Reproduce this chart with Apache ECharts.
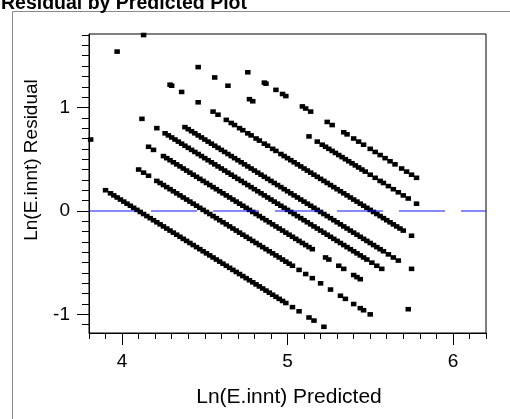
<!DOCTYPE html>
<html>
<head>
<meta charset="utf-8">
<style>
html,body{margin:0;padding:0;background:#fff;}
#chart{width:510px;height:419px;}
</style>
<script src="https://cdn.jsdelivr.net/npm/echarts@6/dist/echarts.min.js"></script>
</head>
<body>
<div id="chart"></div>
<script>
// ---- data: [Ln(E.innt) Predicted, Ln(E.innt) Residual] ----
const bandA = [[3.90,0.20],[3.93,0.17],[3.95,0.15],[3.97,0.13],[3.99,0.11],[4.01,0.09],[4.03,0.07],[4.05,0.05],[4.07,0.03],[4.09,0.01],[4.11,-0.01],[4.13,-0.03],[4.15,-0.05],[4.17,-0.07],[4.19,-0.09],[4.21,-0.11],[4.23,-0.13],[4.25,-0.15],[4.27,-0.17],[4.29,-0.19],[4.31,-0.21],[4.33,-0.23],[4.35,-0.25],[4.37,-0.27],[4.39,-0.29],[4.41,-0.31],[4.43,-0.33],[4.45,-0.35],[4.47,-0.37],[4.49,-0.39],[4.51,-0.41],[4.53,-0.43],[4.55,-0.45],[4.57,-0.47],[4.59,-0.49],[4.61,-0.51],[4.63,-0.53],[4.65,-0.55],[4.67,-0.57],[4.69,-0.59],[4.71,-0.61],[4.73,-0.63],[4.75,-0.65],[4.77,-0.67],[4.79,-0.69],[4.81,-0.71],[4.83,-0.73],[4.85,-0.75],[4.87,-0.77],[4.89,-0.79],[4.91,-0.81],[4.93,-0.83],[4.95,-0.85],[4.97,-0.87],[4.99,-0.89],[5.03,-0.93],[5.07,-0.97],[5.13,-1.03],[5.16,-1.06],[5.22,-1.12]];
const bandB = [[3.81,0.69],[4.10,0.40],[4.13,0.37],[4.16,0.34],[4.21,0.29],[4.23,0.27],[4.25,0.25],[4.27,0.23],[4.29,0.21],[4.31,0.19],[4.33,0.17],[4.35,0.15],[4.37,0.13],[4.39,0.11],[4.41,0.09],[4.43,0.07],[4.45,0.05],[4.47,0.03],[4.49,0.01],[4.51,-0.01],[4.53,-0.03],[4.55,-0.05],[4.57,-0.07],[4.59,-0.09],[4.61,-0.11],[4.63,-0.13],[4.65,-0.15],[4.67,-0.17],[4.69,-0.19],[4.71,-0.21],[4.73,-0.23],[4.75,-0.25],[4.77,-0.27],[4.79,-0.29],[4.81,-0.31],[4.83,-0.33],[4.85,-0.35],[4.87,-0.37],[4.89,-0.39],[4.91,-0.41],[4.93,-0.43],[4.95,-0.45],[4.97,-0.47],[4.99,-0.49],[5.01,-0.51],[5.03,-0.53],[5.07,-0.57],[5.11,-0.61],[5.15,-0.65],[5.20,-0.70],[5.26,-0.76],[5.32,-0.82],[5.35,-0.85],[5.40,-0.90],[5.44,-0.94],[5.46,-0.96],[5.50,-1.00]];
const bandC = [[4.16,0.62],[4.19,0.59],[4.25,0.53],[4.27,0.51],[4.29,0.49],[4.31,0.47],[4.33,0.45],[4.35,0.43],[4.37,0.41],[4.39,0.39],[4.41,0.37],[4.43,0.35],[4.45,0.33],[4.47,0.31],[4.49,0.29],[4.51,0.27],[4.53,0.25],[4.55,0.23],[4.57,0.21],[4.59,0.19],[4.61,0.17],[4.63,0.15],[4.65,0.13],[4.67,0.11],[4.69,0.09],[4.71,0.07],[4.73,0.05],[4.75,0.03],[4.77,0.01],[4.79,-0.01],[4.81,-0.03],[4.83,-0.05],[4.85,-0.07],[4.87,-0.09],[4.89,-0.11],[4.91,-0.13],[4.93,-0.15],[4.95,-0.17],[4.97,-0.19],[4.99,-0.21],[5.01,-0.23],[5.03,-0.25],[5.05,-0.27],[5.07,-0.29],[5.09,-0.31],[5.11,-0.33],[5.13,-0.35],[5.15,-0.37],[5.23,-0.45],[5.25,-0.47],[5.31,-0.53],[5.34,-0.56],[5.40,-0.62],[5.42,-0.64],[5.44,-0.66],[5.73,-0.95]];
const bandD = [[4.12,0.89],[4.21,0.80],[4.26,0.75],[4.28,0.73],[4.30,0.71],[4.32,0.69],[4.34,0.67],[4.36,0.65],[4.38,0.63],[4.40,0.61],[4.42,0.59],[4.44,0.57],[4.46,0.55],[4.48,0.53],[4.50,0.51],[4.52,0.49],[4.54,0.47],[4.56,0.45],[4.58,0.43],[4.60,0.41],[4.62,0.39],[4.64,0.37],[4.66,0.35],[4.68,0.33],[4.70,0.31],[4.72,0.29],[4.74,0.27],[4.76,0.25],[4.78,0.23],[4.80,0.21],[4.82,0.19],[4.84,0.17],[4.86,0.15],[4.88,0.13],[4.90,0.11],[4.92,0.09],[4.94,0.07],[4.96,0.05],[4.98,0.03],[5.00,0.01],[5.02,-0.01],[5.04,-0.03],[5.06,-0.05],[5.08,-0.07],[5.10,-0.09],[5.12,-0.11],[5.14,-0.13],[5.16,-0.15],[5.18,-0.17],[5.20,-0.19],[5.22,-0.21],[5.24,-0.23],[5.26,-0.25],[5.28,-0.27],[5.30,-0.29],[5.32,-0.31],[5.34,-0.33],[5.36,-0.35],[5.38,-0.37],[5.40,-0.39],[5.42,-0.41],[5.44,-0.43],[5.46,-0.45],[5.48,-0.47],[5.51,-0.50],[5.54,-0.53],[5.57,-0.56]];
const bandE = [[4.38,0.81],[4.40,0.79],[4.42,0.77],[4.44,0.75],[4.46,0.73],[4.48,0.71],[4.50,0.69],[4.52,0.67],[4.54,0.65],[4.56,0.63],[4.58,0.61],[4.60,0.59],[4.62,0.57],[4.64,0.55],[4.66,0.53],[4.68,0.51],[4.70,0.49],[4.72,0.47],[4.74,0.45],[4.76,0.43],[4.78,0.41],[4.80,0.39],[4.82,0.37],[4.84,0.35],[4.86,0.33],[4.88,0.31],[4.90,0.29],[4.92,0.27],[4.94,0.25],[4.96,0.23],[4.98,0.21],[5.00,0.19],[5.02,0.17],[5.04,0.15],[5.06,0.13],[5.08,0.11],[5.10,0.09],[5.12,0.07],[5.14,0.05],[5.16,0.03],[5.18,0.01],[5.20,-0.01],[5.22,-0.03],[5.24,-0.05],[5.26,-0.07],[5.28,-0.09],[5.30,-0.11],[5.32,-0.13],[5.34,-0.15],[5.36,-0.17],[5.38,-0.19],[5.40,-0.21],[5.42,-0.23],[5.44,-0.25],[5.46,-0.27],[5.48,-0.29],[5.50,-0.31],[5.52,-0.33],[5.54,-0.35],[5.56,-0.37],[5.58,-0.39],[5.61,-0.42],[5.64,-0.45],[5.67,-0.48],[5.75,-0.56]];
const bandF = [[3.97,1.54],[4.29,1.22],[4.30,1.21],[4.36,1.15],[4.46,1.05],[4.55,0.96],[4.58,0.93],[4.63,0.88],[4.66,0.85],[4.68,0.83],[4.71,0.80],[4.73,0.78],[4.76,0.75],[4.78,0.73],[4.81,0.70],[4.83,0.68],[4.86,0.65],[4.88,0.63],[4.91,0.60],[4.93,0.58],[4.96,0.55],[4.98,0.53],[5.00,0.51],[5.02,0.49],[5.04,0.47],[5.06,0.45],[5.08,0.43],[5.10,0.41],[5.12,0.39],[5.14,0.37],[5.16,0.35],[5.18,0.33],[5.20,0.31],[5.22,0.29],[5.24,0.27],[5.26,0.25],[5.28,0.23],[5.30,0.21],[5.32,0.19],[5.34,0.17],[5.36,0.15],[5.38,0.13],[5.40,0.11],[5.42,0.09],[5.44,0.07],[5.46,0.05],[5.48,0.03],[5.50,0.01],[5.52,-0.01],[5.54,-0.03],[5.56,-0.05],[5.58,-0.07],[5.60,-0.09],[5.62,-0.11],[5.64,-0.13],[5.66,-0.15],[5.68,-0.17],[5.70,-0.19],[5.75,-0.24]];
const bandG = [[4.13,1.70],[4.46,1.39],[4.56,1.29],[4.64,1.21],[4.77,1.08],[4.79,1.06],[5.13,0.72],[5.18,0.67],[5.21,0.64],[5.23,0.62],[5.25,0.60],[5.27,0.58],[5.29,0.56],[5.31,0.54],[5.33,0.52],[5.35,0.50],[5.37,0.48],[5.39,0.46],[5.41,0.44],[5.43,0.42],[5.45,0.40],[5.47,0.38],[5.50,0.35],[5.53,0.32],[5.56,0.29],[5.58,0.27],[5.61,0.24],[5.64,0.21],[5.67,0.18],[5.70,0.15],[5.73,0.12],[5.78,0.07]];
const bandH = [[4.76,1.34],[4.86,1.24],[4.87,1.23],[4.93,1.17],[4.97,1.13],[4.99,1.11],[5.09,1.01],[5.11,0.99],[5.14,0.96],[5.24,0.86],[5.27,0.83],[5.34,0.76],[5.36,0.74],[5.40,0.70],[5.43,0.67],[5.46,0.64],[5.50,0.60],[5.53,0.57],[5.56,0.54],[5.59,0.51],[5.62,0.48],[5.65,0.45],[5.69,0.41],[5.72,0.38],[5.75,0.35],[5.78,0.32]];

const xTickLabels = [4, 5, 6];
const xMinorTicks = [3.8,3.9,4.0,4.1,4.2,4.3,4.4,4.5,4.6,4.7,4.8,4.9,5.0,5.1,5.2,5.3,5.4,5.5,5.6,5.7,5.8,5.9,6.0,6.1,6.2];
const yTickLabels = [-1, 0, 1];
const yMinorTicks = [-1.1,-1.0,-0.9,-0.8,-0.7,-0.6,-0.5,-0.4,-0.3,-0.2,-0.1,0,0.1,0.2,0.3,0.4,0.5,0.6,0.7,0.8,0.9,1.0,1.1,1.2,1.3,1.4,1.5,1.6,1.7];
const refLineValue = 0;

const titleText = 'Residual by Predicted Plot';
const xTitle = 'Ln(E.innt) Predicted';
const yTitle = 'Ln(E.innt) Residual';

const FONT = '"Liberation Sans", Arial, sans-serif';
const points = [].concat(bandA, bandB, bandC, bandD, bandE, bandF, bandG, bandH);

const chart = echarts.init(document.getElementById('chart'), null, {renderer: 'canvas'});
const axisCommon = {
  type: 'value',
  splitLine: {show: false}
};
chart.setOption({
  animation: false,
  backgroundColor: '#fff',
  grid: {left: 89, top: 34, width: 397, height: 299, show: true, borderColor: '#000', borderWidth: 1, backgroundColor: 'transparent'},
  xAxis: [
    Object.assign({}, axisCommon, {
      min: 3.8, max: 6.2, position: 'bottom',
      axisLine: {show: true, onZero: false, lineStyle: {color: '#000', width: 1}},
      axisTick: {show: true, length: 6, customValues: xMinorTicks, lineStyle: {color: '#000', width: 1}},
      axisLabel: {customValues: xTickLabels, fontSize: 19, color: '#000', margin: 19, fontFamily: FONT}
    }),
    Object.assign({}, axisCommon, {
      min: 3.8, max: 6.2, position: 'bottom',
      axisLine: {show: false, onZero: false},
      axisTick: {show: true, length: 12, customValues: xTickLabels, lineStyle: {color: '#000', width: 1}},
      axisLabel: {show: false}
    })
  ],
  yAxis: [
    Object.assign({}, axisCommon, {
      min: -1.18, max: 1.71, position: 'left',
      axisLine: {show: true, onZero: false, lineStyle: {color: '#000', width: 1}},
      axisTick: {show: true, length: 7, customValues: yMinorTicks, lineStyle: {color: '#000', width: 1}},
      axisLabel: {customValues: yTickLabels, fontSize: 19, color: '#000', margin: 19, fontFamily: FONT}
    }),
    Object.assign({}, axisCommon, {
      min: -1.18, max: 1.71, position: 'left',
      axisLine: {show: false, onZero: false},
      axisTick: {show: true, length: 12, customValues: yTickLabels, lineStyle: {color: '#000', width: 1}},
      axisLabel: {show: false}
    })
  ],
  series: [{
    type: 'scatter',
    xAxisIndex: 0, yAxisIndex: 0,
    data: points,
    symbol: 'rect',
    symbolSize: [5.5, 4.6],
    itemStyle: {color: '#000', opacity: 1},
    markLine: {
      silent: true,
      symbol: 'none',
      label: {show: false},
      lineStyle: {color: 'rgba(0,0,255,0.47)', width: 2, type: [46, 16]},
      data: [{yAxis: refLineValue}]
    }
  }],
  graphic: [
    {type: 'rect', shape: {x: 12.5, y: 11.5, width: 600, height: 500}, style: {fill: 'none', stroke: '#8a8a8a', lineWidth: 1}, silent: true},
    {type: 'text', x: 1, y: 4, style: {text: titleText, font: 'bold 19.5px ' + FONT, fill: '#000', textAlign: 'left', textVerticalAlign: 'middle'}},
    {type: 'text', x: 289, y: 397, style: {text: xTitle, font: '21px ' + FONT, fill: '#000', textAlign: 'center', textVerticalAlign: 'middle'}},
    {type: 'text', x: 32, y: 160, rotation: Math.PI / 2, style: {text: yTitle, font: '19px ' + FONT, fill: '#000', textAlign: 'center', textVerticalAlign: 'middle'}}
  ]
});
</script>
</body>
</html>
